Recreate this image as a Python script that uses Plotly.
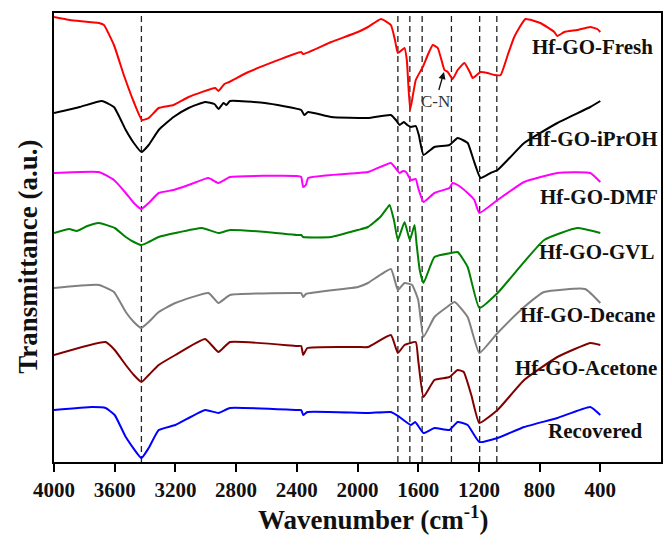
import plotly.graph_objects as go

# ---------------- data ----------------
fresh_wn = [4000, 3895, 3704, 3671, 3605, 3540, 3474, 3420, 3376, 3310, 3212, 3113, 2938, 2916, 2877, 2845,
            2719, 2371, 2358, 2174, 1997, 1931, 1845, 1780, 1753, 1734, 1690, 1675, 1653, 1616, 1570, 1537,
            1504, 1471, 1427, 1405, 1373, 1340, 1296, 1260, 1241, 1189, 1143, 1098, 1057, 1010, 967, 893,
            795, 703, 683, 637, 552, 466, 420, 400]
fresh_t = [445, 442, 439, 437, 417, 387, 360, 342, 344, 354, 357, 365, 374, 371, 378, 380,
           390, 410, 408, 420, 430, 435, 443, 437, 422, 409, 414, 402, 352, 382, 395, 407,
           417, 414, 392, 390, 383, 392, 399, 390, 384, 390, 389, 387, 387, 407, 425, 443,
           439, 430, 426, 430, 432, 435, 433, 430]

iproh_wn = [4000, 3830, 3684, 3605, 3527, 3474, 3424, 3376, 3310, 3212, 3113, 3004, 2943, 2916, 2883, 2864,
            2840, 2610, 2371, 2351, 2325, 2174, 1931, 1780, 1747, 1723, 1695, 1672, 1648, 1616, 1596, 1565,
            1493, 1394, 1340, 1274, 1235, 1189, 1123, 1077, 998, 902, 683, 466, 400]
iproh_t = [349, 355, 361, 355, 332, 319, 310, 317, 332, 345, 354, 360, 358, 353, 359, 357,
           361, 359, 352, 347, 350, 345, 344, 347, 342, 337, 340, 337, 335, 336, 327, 307,
           315, 317, 324, 319, 302, 284, 289, 292, 304, 319, 339, 355, 361]

dmf_wn = [4000, 3704, 3605, 3527, 3474, 3424, 3376, 3310, 3212, 3113, 2982, 2916, 2840, 2400, 2371, 2358,
          2340, 2325, 2000, 1931, 1780, 1750, 1723, 1700, 1680, 1648, 1616, 1600, 1565, 1493, 1394, 1373,
          1340, 1274, 1230, 1197, 1077, 902, 683, 466, 400]
dmf_t = [289, 290, 282, 269, 259, 253, 259, 269, 272, 277, 284, 279, 285, 286, 285, 275,
         277, 284, 289, 290, 299, 294, 289, 291, 290, 282, 283, 274, 260, 269, 274, 279,
         277, 269, 262, 249, 262, 280, 289, 289, 280]

gvl_wn = [4000, 3900, 3850, 3780, 3704, 3600, 3527, 3474, 3424, 3376, 3310, 3200, 3025, 2916, 2840, 2600,
          2400, 2371, 2358, 2174, 1997, 1931, 1850, 1800, 1789, 1760, 1734, 1690, 1655, 1624, 1610, 1590,
          1565, 1493, 1384, 1340, 1274, 1197, 1077, 770, 552, 400]
gvl_t = [229, 233, 231, 236, 239, 234, 225, 220, 217, 220, 225, 229, 234, 229, 232, 230,
         227, 227, 225, 225, 232, 235, 245, 255, 257, 242, 222, 240, 222, 237, 217, 192,
         179, 205, 209, 210, 195, 154, 169, 222, 234, 229]

decane_wn = [4000, 3704, 3605, 3527, 3474, 3424, 3376, 3310, 3200, 2982, 2916, 2840, 2400, 2371, 2358, 2340,
             1997, 1931, 1780, 1734, 1690, 1640, 1600, 1565, 1493, 1410, 1360, 1274, 1197, 1077, 902, 770,
             500, 400]
decane_t = [174, 177, 170, 150, 140, 134, 140, 150, 159, 169, 159, 167, 169, 169, 165, 168,
            175, 179, 193, 172, 179, 177, 162, 125, 145, 155, 160, 145, 109, 129, 155, 170,
            173, 159]

acetone_wn = [4000, 3660, 3600, 3527, 3474, 3424, 3376, 3310, 3200, 3004, 2916, 2840, 2400, 2371, 2358, 2330,
              1997, 1931, 1780, 1734, 1690, 1616, 1600, 1565, 1493, 1394, 1340, 1300, 1250, 1197, 1077, 902,
              683, 466, 400]
acetone_t = [107, 120, 112, 97, 87, 80, 87, 97, 107, 123, 110, 120, 116, 116, 107, 114,
             115, 115, 127, 109, 117, 120, 102, 65, 82, 85, 92, 90, 67, 39, 52, 82,
             105, 119, 117]

recovered_wn = [4000, 3750, 3660, 3600, 3527, 3424, 3376, 3310, 3200, 3004, 2916, 2840, 2400, 2371, 2358, 2330,
                1931, 1780, 1723, 1648, 1620, 1565, 1493, 1394, 1340, 1274, 1197, 1077, 902, 683, 466, 400]
recovered_t = [52, 55, 54, 47, 25, 4, 14, 32, 37, 52, 49, 54, 52, 52, 47, 50,
               49, 50, 45, 37, 40, 29, 34, 32, 40, 37, 20, 24, 35, 44, 55, 47]

series_names = ["Hf-GO-Fresh", "Hf-GO-iPrOH", "Hf-GO-DMF", "Hf-GO-GVL",
                "Hf-GO-Decane", "Hf-GO-Acetone", "Recovered"]
series_colors = ["#ff0000", "#000000", "#ff00ff", "#008000", "#808080", "#800000", "#0000ff"]

dashed_wn = [3424, 1734, 1655, 1574, 1381, 1195, 1082]
tick_vals = [4000, 3600, 3200, 2800, 2400, 2000, 1600, 1200, 800, 400]
tick_text = [str(v) for v in tick_vals]

# label placement (paper x of right edge, data y of centre)
label_x = [0.990, 0.998, 0.998, 0.993, 0.993, 0.996, 0.972]
label_y = [415, 323, 265, 210, 147, 94, 31]

# ---------------- figure ----------------
xs = [fresh_wn, iproh_wn, dmf_wn, gvl_wn, decane_wn, acetone_wn, recovered_wn]
ys = [fresh_t, iproh_t, dmf_t, gvl_t, decane_t, acetone_t, recovered_t]

fig = go.Figure()
for name, color, x, y in zip(series_names, series_colors, xs, ys):
    fig.add_trace(go.Scatter(x=x, y=y, mode="lines", name=name,
                             line=dict(color=color, width=2, shape="spline", smoothing=0.4),
                             showlegend=False, hoverinfo="skip"))

for wn in dashed_wn:
    fig.add_shape(type="line", xref="x", yref="paper", x0=wn, x1=wn, y0=0, y1=1,
                  line=dict(color="#222222", width=1.3, dash="6px,4px"), layer="below")

font_family = "Liberation Serif, Times New Roman, serif"

for name, lx, ly in zip(series_names, label_x, label_y):
    fig.add_annotation(text=name, xref="paper", yref="paper", x=lx, y=ly / 449,
                       xanchor="right", yanchor="middle", showarrow=False,
                       font=dict(family=font_family, size=21, color="#111111", weight="bold"))

# C-N annotation
fig.add_annotation(text="C-N", xref="x", yref="y", x=1430, y=390, axref="x", ayref="y",
                   ax=1485, ay=361, showarrow=True, arrowhead=2, arrowsize=1.1, arrowwidth=1.3,
                   arrowcolor="#111111", standoff=0,
                   font=dict(family=font_family, size=17, color="#333333"))

# axis titles
fig.add_annotation(text="Transmittance (a.u.)", xref="paper", yref="paper",
                   x=-0.043, y=0.457, textangle=-90, showarrow=False,
                   xanchor="center", yanchor="middle",
                   font=dict(family=font_family, size=27, color="#111111", weight="bold"))
fig.add_annotation(text="Wavenumber (cm<sup>-1</sup>)", xref="paper", yref="paper",
                   x=0.5255, y=-0.125, showarrow=False, xanchor="center", yanchor="middle",
                   font=dict(family=font_family, size=27, color="#111111", weight="bold"))

fig.update_xaxes(range=[4000, 0], tickmode="array", tickvals=tick_vals, ticktext=tick_text,
                 ticks="outside", ticklen=8, tickwidth=2, tickcolor="black",
                 showline=True, linecolor="black", linewidth=2, mirror=True,
                 showgrid=False, zeroline=False,
                 tickfont=dict(family=font_family, size=21, color="#111111", weight="bold"))
fig.update_yaxes(range=[0, 449], showticklabels=False, ticks="",
                 showline=True, linecolor="black", linewidth=2, mirror=True,
                 showgrid=False, zeroline=False)

fig.update_layout(width=665, height=545, margin=dict(l=54, r=2, t=13, b=83),
                  plot_bgcolor="white", paper_bgcolor="white")

fig.write_html("out.html", config={"displayModeBar": False},
               post_script="document.body.style.margin='0';document.body.style.overflow='hidden';")
